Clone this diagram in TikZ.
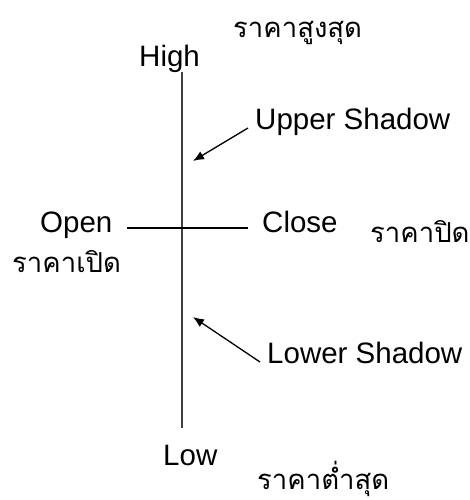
\documentclass[tikz,border=0pt]{standalone}
\usepackage{fontspec}
\setmainfont{Liberation Sans}
\newfontfamily\thaifont[Script=Thai]{Loma}
\usetikzlibrary{arrows.meta}
\begin{document}
\begin{tikzpicture}[x=1pt,y=-1pt,
  lab/.style={anchor=base west,inner sep=0pt,font=\fontsize{29.5}{30}\selectfont},
  thai/.style={anchor=base west,inner sep=0pt,font=\thaifont\fontsize{27.5}{28}\selectfont},
  pointer/.style={line width=1.3pt,-{Latex[length=11pt,width=9pt]}}]
\useasboundingbox (0,0) rectangle (469,500);
\node[lab] (high) at (139,67) {High};
\node[thai] (thigh) at (233,38) {ราคาสูงสุด};
\node[lab] (upper) at (255,129) {Upper Shadow};
\node[lab] (open) at (40,232) {Open};
\node[lab] (close) at (262,232) {Close};
\node[thai] (tclose) at (370,242) {ราคาปิด};
\node[thai] (topen) at (12,272) {ราคาเปิด};
\node[lab] (lower) at (267,363) {Lower Shadow};
\node[lab] (low) at (163,465) {Low};
\node[thai] (tlow) at (257,489) {ราคาต่ำสุด};
\coordinate (top) at (182,72);
\coordinate (bot) at (182,428);
\coordinate (hl) at (127,228);
\coordinate (hr) at (248,228);
\coordinate (utip) at (193,161);
\coordinate (utail) at (248,128);
\coordinate (ltip) at (193,317);
\coordinate (ltail) at (260,362);
\draw[line width=2pt,black!75] (top) -- (bot);
\draw[line width=1.3pt] (hl) -- (hr);
\draw[pointer] (utail) -- (utip);
\draw[pointer] (ltail) -- (ltip);
\end{tikzpicture}
\end{document}
